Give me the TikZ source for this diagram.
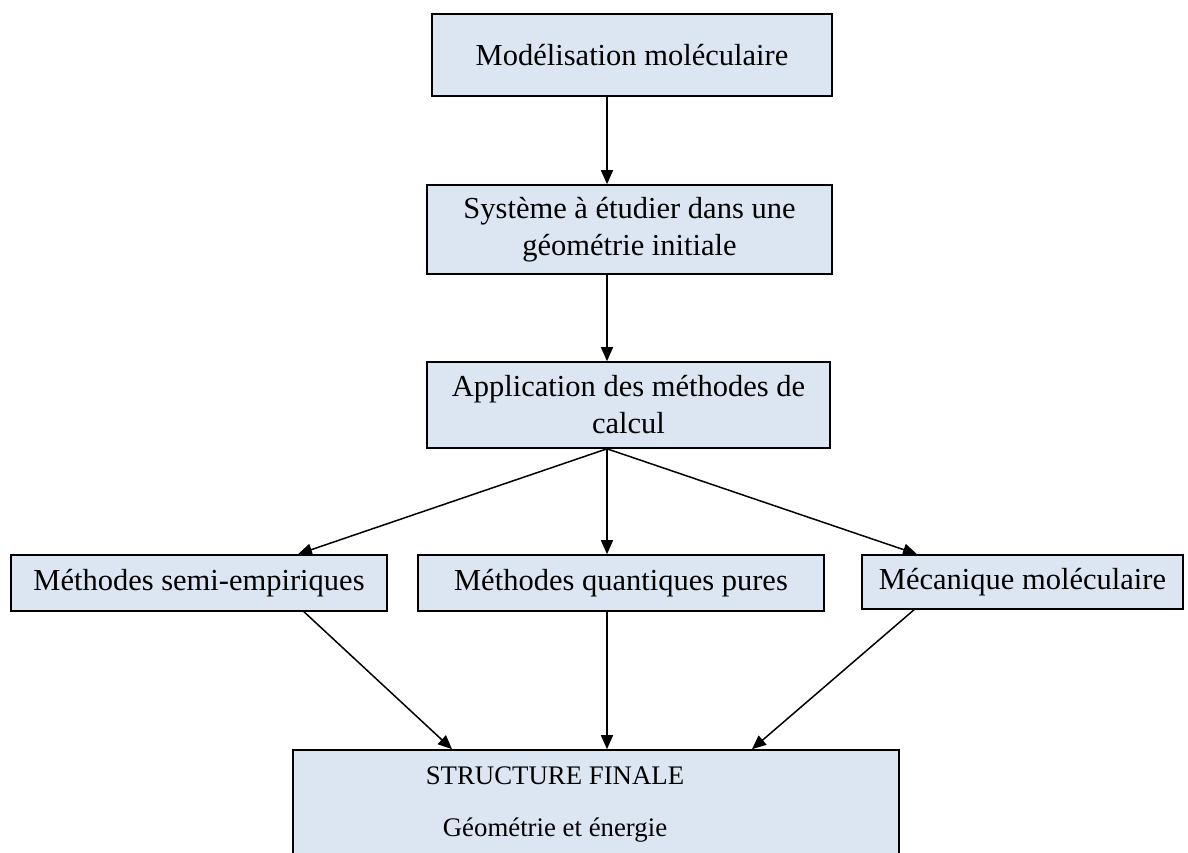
\documentclass[tikz,border=0pt]{standalone}
\usepackage{fontspec}
\setmainfont{Liberation Serif}
\usepackage{tikz}
\usetikzlibrary{arrows.meta,positioning,calc}
\definecolor{paleblue}{HTML}{DCE6F2}

\begin{document}
\begin{tikzpicture}[x=1pt,y=1pt,font=\fontsize{30.5}{37}\selectfont,
  box/.style={draw=black,fill=paleblue,line width=1.6pt,inner sep=0pt,align=center},
  result/.style={anchor=base,font=\fontsize{26.8}{32}\selectfont},
  arr/.style={line width=1.5pt,-{Triangle[length=14pt,width=12pt]}}]
\useasboundingbox (0,0) rectangle (1188,853);
\clip (0,0) rectangle (1188,853);
% main column
\node[box,minimum width=400,minimum height=82] (model) at (632,798) {Mod\'elisation mol\'eculaire};
\node[box,minimum width=405,minimum height=89] (system) at (629.5,623.5) {Syst\`eme \`a \'etudier dans une\\g\'eom\'etrie initiale};
\node[box,minimum width=403,minimum height=86] (calc) at (628.5,448) {Application des m\'ethodes de\\calcul};
% the three methods
\node[box,minimum width=376,minimum height=56] (semi) at (199,270) {M\'ethodes semi-empiriques};
\node[box,minimum width=406,minimum height=56] (quant) at (621,270) {M\'ethodes quantiques pures};
\node[box,minimum width=321,minimum height=54] (meca) at (1022.5,271) {M\'ecanique mol\'eculaire};
% result
\node[box,minimum width=606,minimum height=123] (final) at (596,41.5) {};
\node[result] (finalA) at (555,68) {STRUCTURE FINALE};
\node[result] (finalB) at (555,16) {G\'eom\'etrie et \'energie};
% connector ends
\coordinate (axis) at (607,0);
\coordinate (semiIn) at (298,0);
\coordinate (mecaIn) at (917,0);
\coordinate (semiOut) at (304,0);
\coordinate (mecaOut) at (914,0);
\coordinate (finL) at (452,0);
\coordinate (finR) at (752,0);
\draw[arr] (model.south -| axis) -- (system.north -| axis);
\draw[arr] (system.south -| axis) -- (calc.north -| axis);
\foreach \t/\e in {semi/semiIn,quant/axis,meca/mecaIn}
  \draw[arr] (calc.south -| axis) -- (\t.north -| \e);
\draw[arr] (semi.south -| semiOut) -- (final.north -| finL);
\draw[arr] (quant.south -| axis) -- (final.north -| axis);
\draw[arr] (meca.south -| mecaOut) -- (final.north -| finR);
\end{tikzpicture}
\end{document}
